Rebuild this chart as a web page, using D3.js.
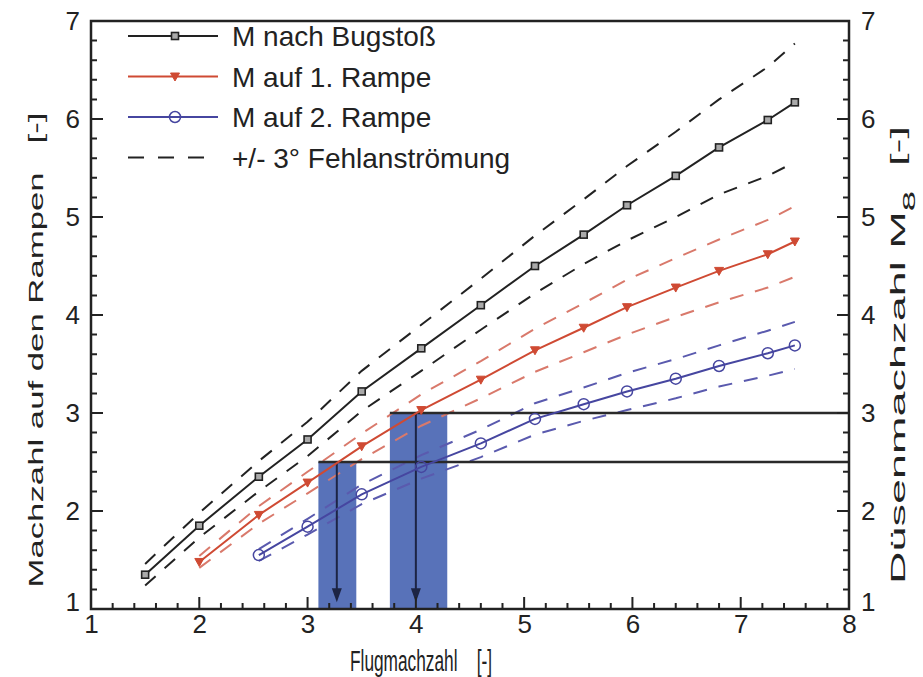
<!DOCTYPE html>
<html>
<head>
<meta charset="utf-8">
<script src="https://cdn.jsdelivr.net/npm/d3@7/dist/d3.min.js"></script>
<style>
  body { margin: 0; background: #fff; }
  text { font-family: "Liberation Sans", Arial, sans-serif; fill: #222; }
</style>
</head>
<body>
<svg id="chart" width="923" height="677"></svg>
<script>
// Flugmachzahl (x) for each curve
var xBug = [1.5, 2.0, 2.55, 3.0, 3.5, 4.05, 4.6, 5.1, 5.55, 5.95, 6.4, 6.8, 7.25, 7.5];
var xR1  = [2.0, 2.55, 3.0, 3.5, 4.05, 4.6, 5.1, 5.55, 5.95, 6.4, 6.8, 7.25, 7.5];
var xR2  = [2.55, 3.0, 3.5, 4.05, 4.6, 5.1, 5.55, 5.95, 6.4, 6.8, 7.25, 7.5];

// M nach Bugstoss, with +/- 3 deg
var mBug    = [1.35, 1.85, 2.35, 2.73, 3.22, 3.66, 4.10, 4.50, 4.82, 5.12, 5.42, 5.71, 5.99, 6.17];
var mBugUp  = [1.46, 1.98, 2.51, 2.91, 3.43, 3.90, 4.37, 4.81, 5.18, 5.52, 5.87, 6.20, 6.53, 6.77];
var mBugLow = [1.24, 1.73, 2.20, 2.56, 3.02, 3.43, 3.85, 4.22, 4.52, 4.76, 5.00, 5.23, 5.42, 5.56];

// M auf 1. Rampe
var mR1    = [1.48, 1.96, 2.29, 2.66, 3.03, 3.34, 3.64, 3.87, 4.08, 4.28, 4.45, 4.62, 4.75];
var mR1Up  = [1.54, 2.05, 2.40, 2.79, 3.19, 3.53, 3.86, 4.12, 4.36, 4.58, 4.77, 4.97, 5.11];
var mR1Low = [1.42, 1.87, 2.18, 2.53, 2.87, 3.15, 3.42, 3.62, 3.80, 3.98, 4.13, 4.28, 4.39];

// M auf 2. Rampe
var mR2    = [1.55, 1.84, 2.17, 2.45, 2.69, 2.94, 3.09, 3.22, 3.35, 3.48, 3.61, 3.69];
var mR2Up  = [1.61, 1.92, 2.27, 2.57, 2.83, 3.10, 3.26, 3.41, 3.55, 3.69, 3.84, 3.93];
var mR2Low = [1.49, 1.76, 2.07, 2.33, 2.55, 2.78, 2.92, 3.03, 3.15, 3.27, 3.38, 3.45];

// operating ranges (bars), nozzle mach levels and arrow positions
var rangeFrom = [3.10, 3.76];
var rangeTo   = [3.45, 4.29];
var levels    = [2.5, 3.0];
var arrowX    = [3.27, 4.0];

var xTicks = [1, 2, 3, 4, 5, 6, 7, 8];
var yTicks = [1, 2, 3, 4, 5, 6, 7];

var legendNames = ["M nach Bugstoß", "M auf 1. Rampe", "M auf 2. Rampe", "+/- 3° Fehlanströmung"];

var svg = d3.select("#chart"),
    margin = {top: 21, right: 74, bottom: 68, left: 91},
    width = 923 - margin.left - margin.right,
    height = 677 - margin.top - margin.bottom,
    g = svg.append("g").attr("transform", "translate(" + margin.left + "," + margin.top + ")");

var x = d3.scaleLinear().domain([1, 8]).range([0, width]);
var y = d3.scaleLinear().domain([1, 7]).range([height, 0]);

var black = "#222", red = "#cf4a33", redDash = "#d9796b", blue = "#4646a0", blueDash = "#5a5aae",
    barFill = "#5872b9", arrowCol = "#1c2444";

var minorX = d3.range(1, 8.001, 0.2).filter(function(v) { return Math.abs(v - Math.round(v)) > 0.01; });
var minorY = d3.range(1, 7.001, 0.2).filter(function(v) { return Math.abs(v - Math.round(v)) > 0.01; });

// bars
g.selectAll("rect.range")
  .data(rangeFrom)
  .enter().append("rect")
    .attr("class", "range")
    .attr("x", function(d) { return x(d); })
    .attr("width", function(d, i) { return x(rangeTo[i]) - x(d); })
    .attr("y", function(d, i) { return y(levels[i]); })
    .attr("height", function(d, i) { return y(1) - y(levels[i]); })
    .style("fill", barFill);

var line = d3.line()
    .x(function(d) { return x(d[0]); })
    .y(function(d) { return y(d[1]); });

function pts(xs, ys) { return xs.map(function(v, i) { return [v, ys[i]]; }); }

var dashed = [
  [xBug, mBugUp, black], [xBug, mBugLow, black],
  [xR1, mR1Up, redDash], [xR1, mR1Low, redDash],
  [xR2, mR2Up, blueDash], [xR2, mR2Low, blueDash]
];
dashed.forEach(function(s) {
  g.append("path")
    .attr("d", line(pts(s[0], s[1])))
    .style("fill", "none")
    .style("stroke", s[2])
    .style("stroke-width", 2)
    .style("stroke-dasharray", "14,12");
});

// horizontal level lines
g.selectAll("line.level")
  .data(levels)
  .enter().append("line")
    .attr("class", "level")
    .attr("x1", function(d, i) { return x(rangeFrom[i]); })
    .attr("x2", x(8))
    .attr("y1", function(d) { return y(d); })
    .attr("y2", function(d) { return y(d); })
    .style("stroke", "#2a2a2a")
    .style("stroke-width", 2.4);

// arrows
g.selectAll("line.arrow")
  .data(arrowX)
  .enter().append("line")
    .attr("class", "arrow")
    .attr("x1", function(d) { return x(d); })
    .attr("x2", function(d) { return x(d); })
    .attr("y1", function(d, i) { return y(levels[i]); })
    .attr("y2", y(1.12))
    .style("stroke", arrowCol)
    .style("stroke-width", 2);
g.selectAll("path.head")
  .data(arrowX)
  .enter().append("path")
    .attr("class", "head")
    .attr("d", function(d) { var px = x(d), py = y(1.07); return "M" + (px - 5) + "," + (py - 14) + "L" + (px + 5) + "," + (py - 14) + "L" + px + "," + py + "Z"; })
    .style("fill", arrowCol);

// solid curves
var solid = [[xBug, mBug, black], [xR1, mR1, red], [xR2, mR2, blue]];
solid.forEach(function(s) {
  g.append("path")
    .attr("d", line(pts(s[0], s[1])))
    .style("fill", "none")
    .style("stroke", s[2])
    .style("stroke-width", 2);
});

function square(sel) {
  sel.append("rect").attr("x", -3.5).attr("y", -3.5).attr("width", 7).attr("height", 7)
    .style("fill", "#aaa").style("stroke", black).style("stroke-width", 1.6);
}
function triangle(sel) {
  sel.append("path").attr("d", "M-4.5,-3.5L4.5,-3.5L0,4.5Z").style("fill", red).style("stroke", red);
}
function circle(sel) {
  sel.append("circle").attr("r", 5.5).style("fill", "none").style("stroke", blue).style("stroke-width", 1.5);
}

g.selectAll("g.sq").data(pts(xBug, mBug)).enter().append("g").attr("class", "sq")
  .attr("transform", function(d) { return "translate(" + x(d[0]) + "," + y(d[1]) + ")"; })
  .call(square);
g.selectAll("g.tri").data(pts(xR1, mR1)).enter().append("g").attr("class", "tri")
  .attr("transform", function(d) { return "translate(" + x(d[0]) + "," + y(d[1]) + ")"; })
  .call(triangle);
g.selectAll("g.circ").data(pts(xR2, mR2)).enter().append("g").attr("class", "circ")
  .attr("transform", function(d) { return "translate(" + x(d[0]) + "," + y(d[1]) + ")"; })
  .call(circle);

// axis labels from d3 axes
function styleAxis(a) {
  a.select(".domain").remove();
  a.selectAll("line").remove();
  a.selectAll("text").style("font-size", "26px").style("fill", "#222")
    .style("font-family", "'Liberation Sans', Arial, sans-serif");
}

g.append("g").attr("transform", "translate(0," + height + ")")
  .call(d3.axisBottom(x).tickValues(xTicks).tickFormat(d3.format("d")).tickSize(0).tickPadding(6))
  .call(styleAxis);
g.append("g")
  .call(d3.axisLeft(y).tickValues(yTicks).tickFormat(d3.format("d")).tickSize(0).tickPadding(11))
  .call(styleAxis);
g.append("g").attr("transform", "translate(" + width + ",0)")
  .call(d3.axisRight(y).tickValues(yTicks).tickFormat(d3.format("d")).tickSize(0).tickPadding(12))
  .call(styleAxis);

// the corner "1" on the vertical axes sits a bit higher
g.selectAll("text").filter(function() { return this.textContent === "1" && d3.select(this).attr("dy") === "0.32em"; })
  .attr("dy", "0.05em");

// frame
g.append("rect")
  .attr("width", width).attr("height", height)
  .style("fill", "none").style("stroke", black).style("stroke-width", 2.5);

// inward tick marks, one path per set
function tickPath(vals, len, side) {
  var p = d3.path();
  vals.forEach(function(d) {
    if (side === "b") { p.moveTo(x(d), height); p.lineTo(x(d), height - len); }
    if (side === "l") { p.moveTo(0, y(d)); p.lineTo(len, y(d)); }
    if (side === "r") { p.moveTo(width, y(d)); p.lineTo(width - len, y(d)); }
  });
  g.append("path")
    .attr("d", p.toString())
    .attr("fill", "none")
    .attr("stroke", black)
    .attr("stroke-width", 2);
}
tickPath(xTicks, 12, "b");
tickPath(minorX, 6, "b");
tickPath(yTicks, 12, "l");
tickPath(minorY, 6, "l");
tickPath(yTicks, 12, "r");
tickPath(minorY, 6, "r");

// axis titles
svg.append("text")
  .attr("x", 421).attr("y", 671)
  .attr("text-anchor", "middle")
  .attr("textLength", 142)
  .attr("lengthAdjust", "spacingAndGlyphs")
  .style("font-size", "29px")
  .attr("xml:space", "preserve")
  .text("Flugmachzahl    [-]");

svg.append("text")
  .attr("transform", "translate(43,350) rotate(-90)")
  .attr("text-anchor", "middle")
  .attr("textLength", 475)
  .attr("lengthAdjust", "spacingAndGlyphs")
  .style("font-size", "21px")
  .attr("xml:space", "preserve")
  .text("Machzahl auf den Rampen   [-]");

var rt = svg.append("text")
  .attr("transform", "translate(905,355) rotate(-90)")
  .attr("text-anchor", "middle")
  .attr("textLength", 458)
  .attr("lengthAdjust", "spacingAndGlyphs")
  .style("font-size", "21px")
  .attr("xml:space", "preserve");
rt.append("tspan").text("Düsenmachzahl M");
rt.append("tspan").attr("baseline-shift", "sub").style("font-size", "17px").text("8");
rt.append("tspan").text("  [-]");

// legend
var legend = svg.append("g").attr("transform", "translate(128,36)");
legendNames.forEach(function(name, i) {
  var row = legend.append("g").attr("transform", "translate(0," + (i * 40.5) + ")");
  var cols = [black, red, blue, black];
  row.append("line")
    .attr("x1", 0).attr("x2", 90).attr("y1", 0).attr("y2", 0)
    .style("stroke", cols[i]).style("stroke-width", 2)
    .style("stroke-dasharray", i === 3 ? "16,14" : null);
  var m = row.append("g").attr("transform", "translate(47,0)");
  if (i === 0) square(m);
  if (i === 1) triangle(m);
  if (i === 2) circle(m);
  row.append("text")
    .attr("x", 104).attr("y", 0).attr("dy", "0.36em")
    .style("font-size", "28px")
    .text(name);
});
</script>
</body>
</html>
